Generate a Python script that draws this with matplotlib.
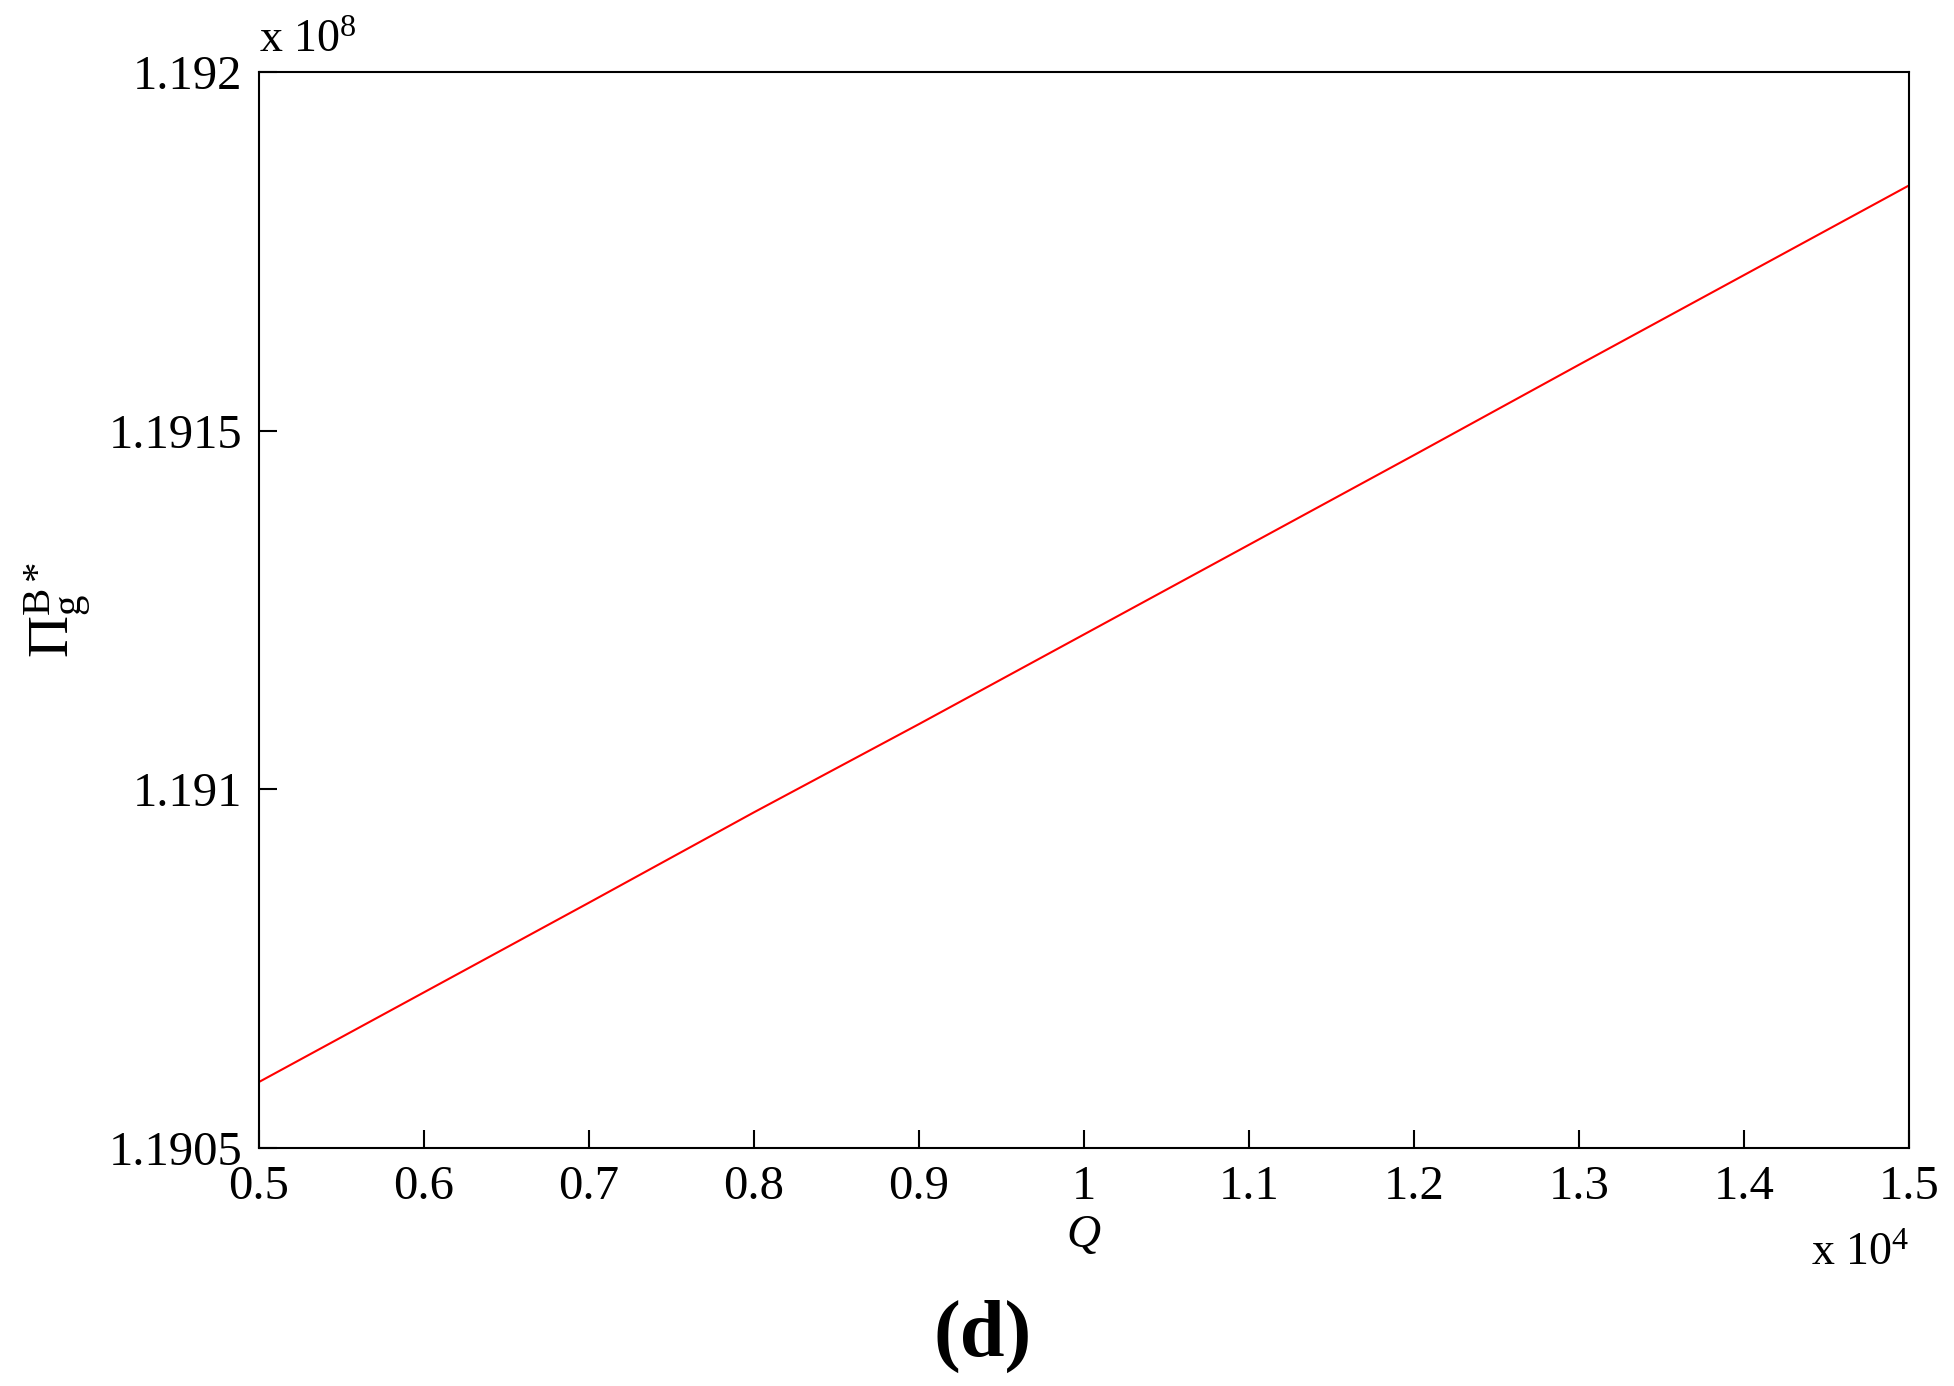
import matplotlib
matplotlib.use("Agg")
import matplotlib.pyplot as plt

plt.rcParams['font.family'] = ['Liberation Serif', 'DejaVu Serif']
plt.rcParams['mathtext.fontset'] = 'custom'
plt.rcParams['mathtext.rm'] = 'Liberation Serif'
plt.rcParams['mathtext.it'] = 'Liberation Serif:italic'

# Q in units of 1e4, profit in units of 1e8
q = [0.5, 0.6, 0.7, 0.8, 0.9, 1.0, 1.1, 1.2, 1.3, 1.4, 1.5]
profit = [1.190592, 1.190717, 1.190842, 1.190968, 1.191091, 1.191216,
          1.191341, 1.191466, 1.191592, 1.191717, 1.191842]

xticks = [0.5, 0.6, 0.7, 0.8, 0.9, 1.0, 1.1, 1.2, 1.3, 1.4, 1.5]
xticklabels = ["0.5", "0.6", "0.7", "0.8", "0.9", "1", "1.1", "1.2", "1.3", "1.4", "1.5"]
yticks = [1.1905, 1.191, 1.1915, 1.192]
yticklabels = ["1.1905", "1.191", "1.1915", "1.192"]

fig = plt.figure(figsize=(19.54, 13.86), dpi=100)
ax = fig.add_axes([0.1325, 0.1717, 0.8445, 0.7763])

ax.plot(q, profit, color="red", lw=1.5)

ax.set_xlim(0.5, 1.5)
ax.set_ylim(1.1905, 1.192)
ax.set_xticks(xticks)
ax.set_xticklabels(xticklabels)
ax.set_yticks(yticks)
ax.set_yticklabels(yticklabels)
ax.tick_params(direction="in", length=13, width=1.5, labelsize=35, pad=12,
               top=False, right=False)
for s in ax.spines.values():
    s.set_linewidth(1.5)

ax.set_xlabel("$Q$", fontsize=34, labelpad=4)
ax.set_ylabel(r"$\Pi_{\mathrm{g}}^{\mathrm{B}*}$", fontsize=42)
ax.yaxis.set_label_coords(-0.1, 0.5)

# multipliers, MATLAB style
fig.text(0.1325, 0.955, r"x 10$^{8}$", fontsize=33, ha="left", va="bottom")
fig.text(0.977, 0.08, r"x 10$^{4}$", fontsize=33, ha="right", va="bottom")

fig.text(0.503, 0.036, "(d)", fontsize=58, fontweight="bold", ha="center", va="center")

fig.savefig("out.png", dpi=100)
